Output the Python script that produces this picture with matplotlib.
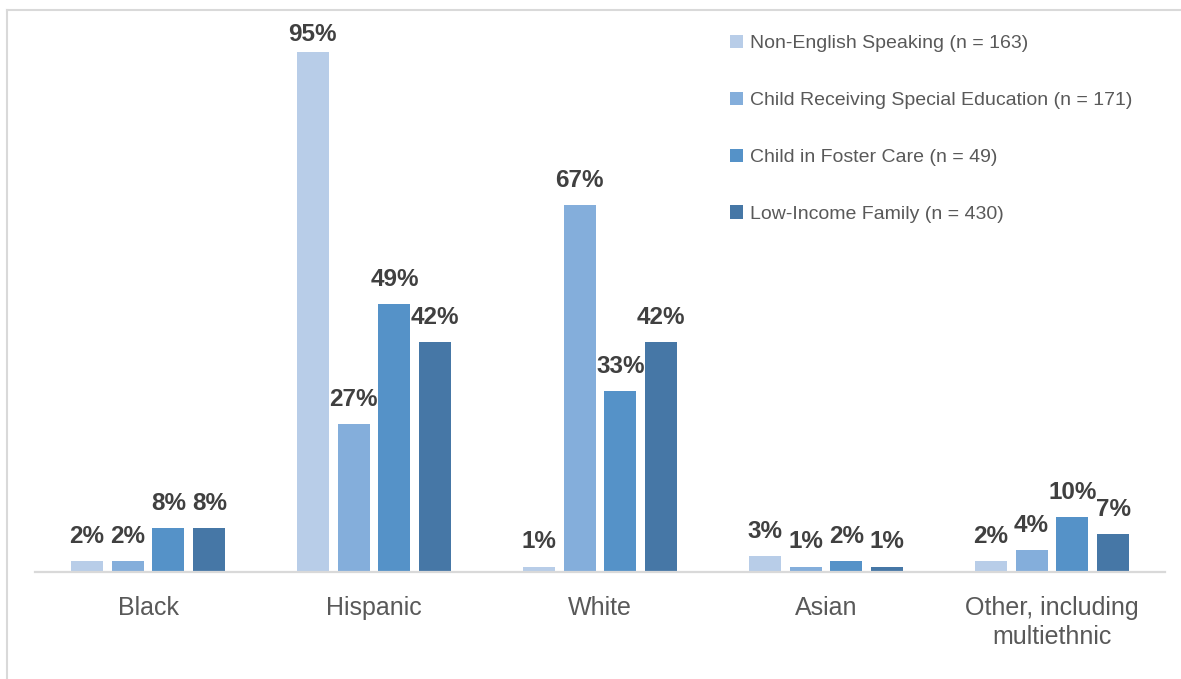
import matplotlib

matplotlib.use("Agg")
import matplotlib.pyplot as plt
import numpy as np
from matplotlib.lines import Line2D

plt.rcParams["font.family"] = ["Liberation Sans", "DejaVu Sans"]

categories = ["Black", "Hispanic", "White", "Asian", "Other, including\nmultiethnic"]
series_names = [
    "Non-English Speaking (n = 163)",
    "Child Receiving Special Education (n = 171)",
    "Child in Foster Care (n = 49)",
    "Low-Income Family (n = 430)",
]
non_english = [2, 95, 1, 3, 2]
special_ed = [2, 27, 67, 1, 4]
foster_care = [8, 49, 33, 2, 10]
low_income = [8, 42, 42, 1, 7]

series_values = [non_english, special_ed, foster_care, low_income]
colors = ["#B8CDE8", "#84AEDB", "#5592C8", "#4677A6"]

fig = plt.figure(figsize=(11.81, 6.79), dpi=100)
ax = fig.add_axes([35 / 1181, 1 - 572 / 679, 1130 / 1181, 552 / 679])

x = np.arange(len(categories))
width = 0.142
step = 0.181
y_top = 100.9
label_gap = 3.3      # gap between bar top and label, in data units
label_cap = 97.0     # labels are kept inside the plot area, like Excel does
for i, (name, vals, col) in enumerate(zip(series_names, series_values, colors)):
    pos = x + (i - 1.5) * step
    bars = ax.bar(pos, vals, width=width, color=col, label=name, linewidth=0)
    for b, v in zip(bars, vals):
        ax.text(b.get_x() + b.get_width() / 2, min(v + label_gap, label_cap), f"{v}%",
                ha="center", va="baseline", fontsize=17.5, fontweight="bold",
                color="#404040")

ax.set_xlim(-0.5, len(categories) - 0.5)
ax.set_ylim(0, y_top)
ax.set_yticks([])
ax.set_xticks(x)
ax.set_xticklabels(categories, fontsize=18, color="#595959", linespacing=1.3)
ax.tick_params(axis="x", length=0, pad=17)
for side in ["top", "right", "left"]:
    ax.spines[side].set_visible(False)
ax.spines["bottom"].set_color("#D9D9D9")
ax.spines["bottom"].set_linewidth(1.6)

leg = ax.legend(loc="upper left", bbox_to_anchor=(730 / 1181, 1 - 35 / 679),
                bbox_transform=fig.transFigure, frameon=False, fontsize=14,
                handlelength=0.68, handleheight=0.68, handletextpad=0.35,
                labelspacing=2.02, borderpad=0, borderaxespad=0)
for t in leg.get_texts():
    t.set_color("#595959")

# light frame around the chart area (only top and left edges show)
fig.add_artist(Line2D([6.5 / 1181, 1], [1 - 9.5 / 679, 1 - 9.5 / 679],
                      transform=fig.transFigure, color="#D9D9D9", linewidth=1.5))
fig.add_artist(Line2D([6.5 / 1181, 6.5 / 1181], [0, 1 - 9.5 / 679],
                      transform=fig.transFigure, color="#D9D9D9", linewidth=1.5))

fig.savefig("out.png", dpi=100)
